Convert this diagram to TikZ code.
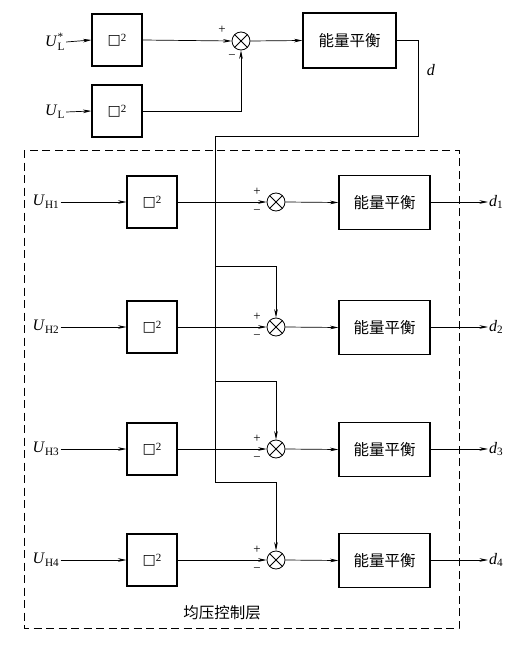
\documentclass[tikz,border=0pt]{standalone}
\usepackage{amsmath}
\usepackage{fontspec}
\setmainfont{Liberation Serif}
\newfontfamily\cjk{Noto Sans CJK SC}
\newfontfamily\symf{DejaVu Sans}
\usetikzlibrary{arrows.meta}
\newcommand{\sqtwo}{{\symf\fontsize{14}{15}\selectfont □}\raisebox{0.55ex}{\fontsize{11}{12}\selectfont 2}}
\begin{document}
\begin{tikzpicture}[x=1pt,y=-1pt,
  blk/.style={draw, line width=1.1pt, minimum width=50pt, minimum height=52pt, inner sep=0pt, font=\fontsize{14}{16}\selectfont},
  ebox/.style={draw, line width=1.1pt, minimum width=91pt, minimum height=54pt, inner sep=0pt, font=\cjk\fontsize{15.5}{17}\selectfont},
  sumc/.style={draw, circle, minimum size=18pt, inner sep=0pt, line width=0.8pt,
    path picture={\draw[line width=0.8pt] (path picture bounding box.north west) -- (path picture bounding box.south east)
      (path picture bounding box.north east) -- (path picture bounding box.south west);}},
  ar/.style={-{Stealth[length=8.5pt,width=3.6pt]}, line width=0.7pt},
  ln/.style={line width=0.7pt},
  lbl/.style={font=\fontsize{16}{18}\selectfont, inner sep=1pt},
  pm/.style={font=\fontsize{13}{14}\selectfont, inner sep=0pt},
  frame/.style={dashed, dash pattern=on 8pt off 4.5pt, line width=0.9pt}
]
\useasboundingbox (0,0) rectangle (531,650);

% top section
\node[lbl] (uls) at (55,42) {\textit{U}$^{\text{*}}_{\text{L}}$};
\node[lbl] (ul) at (55,112) {\textit{U}$_{\text{L}}$};
\node[blk] (a1) at (117,40) {\sqtwo};
\node[blk] (a2) at (117,111) {\sqtwo};
\node[sumc] (s0) at (241,41) {};
\node[ebox, minimum width=93pt, minimum height=55pt] (e0) at (349.5,40.5) {能量平衡};
\node[pm] (p0) at (222,30) {+};
\node[pm] (m0) at (232,57) {−};
\node[lbl] (dl) at (431,70) {\textit{d}};

\draw[ar] (uls.east) -- (a1.west);
\draw[ar] (ul.east) -- (a2.west);
\draw[ar] (a1.east) -- (s0.west);
\draw[ar] (a2.east) -- (s0.south |- a2.east) -- (s0.south);
\draw[ar] (s0.east) -- (e0.west);

% rows
\foreach \i/\y in {1/202,2/327,3/449,4/560}{
  \node[lbl] (u\i) at (46,\y) {\textit{U}$_{\text{H\i}}$};
  \node[blk] (b\i) at (152,\y) {\sqtwo};
  \node[sumc] (s\i) at (276,\y) {};
  \node[ebox] (e\i) at (384.5,\y+0.5) {能量平衡};
  \node[pm] (p\i) at (257,\y-10) {+};
  \node[pm] (m\i) at (257,\y+10) {−};
  \coordinate (o\i) at (488,\y);
  \node[lbl, anchor=west] (d\i) at (o\i) {\textit{d}$_{\text{\i}}$};
  \draw[ar] (u\i.east) -- (b\i.west);
  \draw[ar] (b\i.east) -- (s\i.west);
  \draw[ar] (s\i.east) -- (e\i.west);
  \draw[ar] (e\i.east |- o\i) -- (o\i);
}

% feedback distribution
\coordinate (c1) at (418,40.5);
\coordinate (c2) at (418,136);
\coordinate (c3) at (215,136);
\coordinate (k2) at (215,266);
\coordinate (k3) at (215,381);
\coordinate (k4) at (215,482);
\draw[ln] (e0.east) -- (c1) -- (c2) -- (c3) -- (k4);
\draw[ar] (k2) -- (s2.north |- k2) -- (s2.north);
\draw[ar] (k3) -- (s3.north |- k3) -- (s3.north);
\draw[ar] (k4) -- (s4.north |- k4) -- (s4.north);

% dashed frame
\draw[frame] (24,150) rectangle (459,628);
\node[font=\cjk\fontsize{15.5}{17}\selectfont, inner sep=0pt] (lay) at (222,613) {均压控制层};
\end{tikzpicture}
\end{document}
